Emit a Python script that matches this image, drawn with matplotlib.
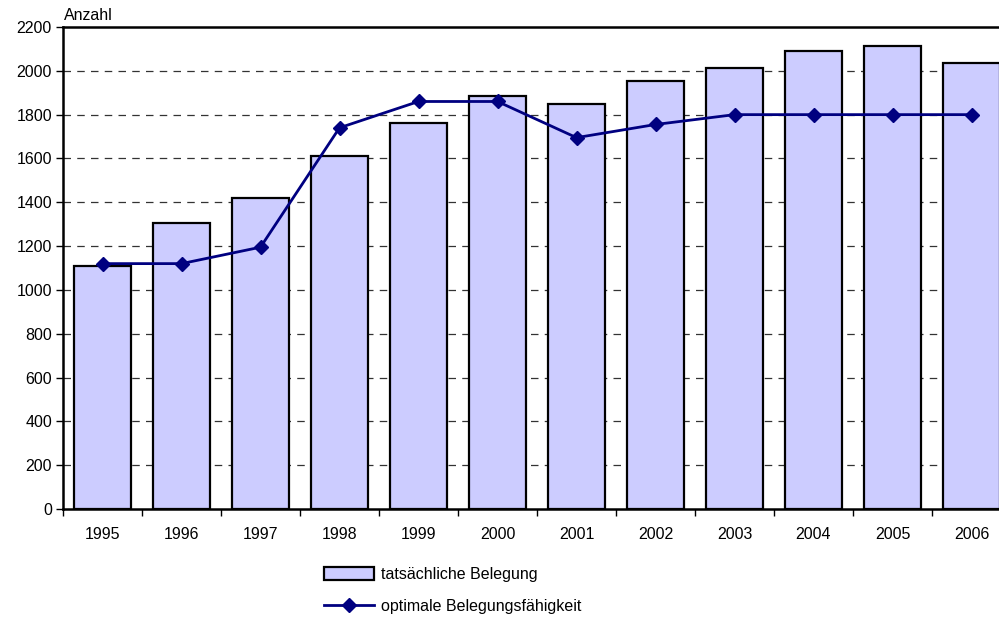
import matplotlib
matplotlib.use("Agg")
import matplotlib.pyplot as plt
import numpy as np

plt.rcParams['font.family'] = ['Liberation Sans', 'DejaVu Sans']

years = ["1995", "1996", "1997", "1998", "1999", "2000",
         "2001", "2002", "2003", "2004", "2005", "2006"]
belegung = [1110, 1305, 1420, 1610, 1760, 1885, 1850, 1955, 2015, 2090, 2115, 2035]
optimal = [1120, 1120, 1195, 1740, 1860, 1860, 1695, 1755, 1800, 1800, 1800, 1800]
yticks = [0, 200, 400, 600, 800, 1000, 1200, 1400, 1600, 1800, 2000, 2200]

W, H = 999, 618
FS = 11.5
fig = plt.figure(figsize=(W / 100, H / 100), dpi=100)
left, right, top, bottom = 63, 1011, 27, 509
ax = fig.add_axes([left / W, (H - bottom) / H, (right - left) / W, (bottom - top) / H])

x = np.arange(len(years))
bars = ax.bar(x, belegung, width=0.72, color='#CCCCFF', edgecolor='black', linewidth=1.6,
              zorder=2, label='tatsächliche Belegung')
line, = ax.plot(x, optimal, color='#000080', linewidth=2, marker='D', markersize=7,
                zorder=3, label='optimale Belegungsfähigkeit')

ax.set_xlim(-0.5, len(years) - 0.5)
ax.set_ylim(0, 2200)
ax.set_yticks(yticks)
ax.set_yticklabels([str(v) for v in yticks], fontsize=FS)

for v in yticks[1:-1]:
    ax.axhline(v, color='#333333', linewidth=0.9, linestyle=(0, (6, 5)), zorder=1)

ax.set_xticks(x)
ax.set_xticklabels(years, fontsize=FS)
ax.tick_params(axis='x', which='major', length=0, pad=13)
ax.set_xticks(np.arange(-0.5, len(years), 1.0), minor=True)
ax.tick_params(axis='x', which='minor', length=5, width=1, direction='out')
ax.tick_params(axis='y', length=5, width=1, direction='out', pad=3)

for s in ['left', 'bottom', 'top']:
    ax.spines[s].set_linewidth(1.8)
    ax.spines[s].set_color('black')
ax.spines['right'].set_visible(False)

fig.text(64 / W, 1 - 16 / H, 'Anzahl', fontsize=FS, ha='left', va='center')

leg = fig.legend([bars, line], ['tatsächliche Belegung', 'optimale Belegungsfähigkeit'],
                 loc='upper left', bbox_to_anchor=(316 / W, 1 - 559 / H),
                 frameon=False, fontsize=FS, handlelength=3.1, handleheight=0.8,
                 labelspacing=1.05, handletextpad=0.5, borderpad=0)

fig.savefig('out.png', dpi=100)
